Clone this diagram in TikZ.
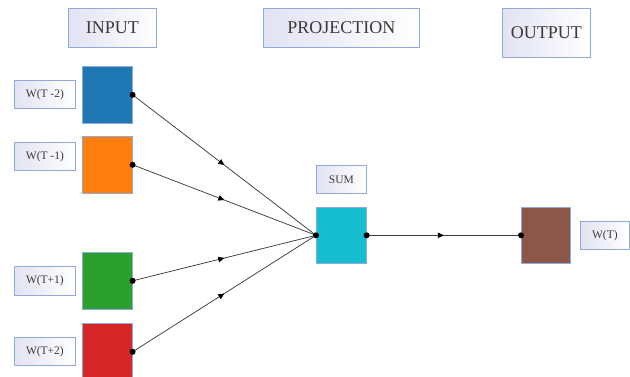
\documentclass[tikz,border=0pt]{standalone}
\usepackage{fontspec}
\setmainfont{Liberation Serif}
\usetikzlibrary{decorations.markings,arrows.meta}
\definecolor{bordc}{HTML}{8FAADC}
\definecolor{txtc}{HTML}{3A3A3A}
\definecolor{lavc}{HTML}{E2E2F3}
\definecolor{lnc}{HTML}{3C3C3C}
\definecolor{cblue}{HTML}{1F77B4}
\definecolor{corange}{HTML}{FF7F0E}
\definecolor{cgreen}{HTML}{2CA02C}
\definecolor{cred}{HTML}{D62728}
\definecolor{ccyan}{HTML}{17BECF}
\definecolor{cbrown}{HTML}{8C564B}
\tikzset{
  x=1pt,y=1pt,
  lblbox/.style={draw=bordc,line width=0.8pt,left color=lavc,right color=white,
    text=txtc,inner sep=0pt,anchor=north west},
  sq/.style={draw=bordc,line width=0.6pt,inner sep=0pt,anchor=north west,
    minimum width=50pt,minimum height=57pt},
  conn/.style={draw=lnc,line width=0.75pt,postaction={decorate},
    decoration={markings,mark=at position 0.5 with {\arrow[black]{Triangle[length=6pt,width=5.5pt]}}}},
  dotc/.style={fill=black,circle,inner sep=0pt,minimum size=6pt}
}
\begin{document}
\begin{tikzpicture}
\useasboundingbox (0,0) rectangle (630,376);
% headers
\node[lblbox,minimum width=88pt,minimum height=39pt,font=\fontsize{18}{20}\selectfont] (hin) at (68,368) {INPUT};
\node[lblbox,minimum width=156pt,minimum height=39pt,font=\fontsize{18}{20}\selectfont] (hproj) at (263,368) {PROJECTION};
\node[lblbox,minimum width=88pt,minimum height=49pt,font=\fontsize{18}{20}\selectfont] (hout) at (502,368) {OUTPUT};
% input squares
\node[sq,fill=cblue] (s1) at (82,310) {};
\node[sq,fill=corange] (s2) at (82,240) {};
\node[sq,fill=cgreen] (s3) at (82,124) {};
\node[sq,fill=cred] (s4) at (82,53) {};
% labels
\node[lblbox,minimum width=61pt,minimum height=28pt,font=\fontsize{11.5}{13}\selectfont] (l1) at (14,296) {W(T -2)};
\node[lblbox,minimum width=61pt,minimum height=28pt,font=\fontsize{11.5}{13}\selectfont] (l2) at (14,234) {W(T -1)};
\node[lblbox,minimum width=61pt,minimum height=29pt,font=\fontsize{11.5}{13}\selectfont] (l3) at (14,110) {W(T+1)};
\node[lblbox,minimum width=61pt,minimum height=28pt,font=\fontsize{11.5}{13}\selectfont] (l4) at (14,39) {W(T+2)};
% projection
\node[lblbox,minimum width=50pt,minimum height=28pt,font=\fontsize{11.5}{13}\selectfont] (lsum) at (316,211) {SUM};
\node[sq,fill=ccyan,minimum height=56pt] (sp) at (316,169) {};
% output
\node[sq,fill=cbrown,minimum width=49pt,minimum height=56pt] (so) at (521,169) {};
\node[lblbox,minimum width=49pt,minimum height=28pt,font=\fontsize{11.5}{13}\selectfont] (lo) at (580,155) {W(T)};
% connectors
\draw[conn] (s1.east) -- (sp.west);
\draw[conn] (s2.east) -- (sp.west);
\draw[conn] (s3.east) -- (sp.west);
\draw[conn] (s4.east) -- (sp.west);
\draw[conn] (sp.east) -- (so.west);
% dots
\foreach \n in {s1,s2,s3,s4,sp}{\node[dotc] at (\n.east) {};}
\node[dotc] (dpw) at (sp.west) {};
\node[dotc] (dow) at (so.west) {};
\end{tikzpicture}
\end{document}
